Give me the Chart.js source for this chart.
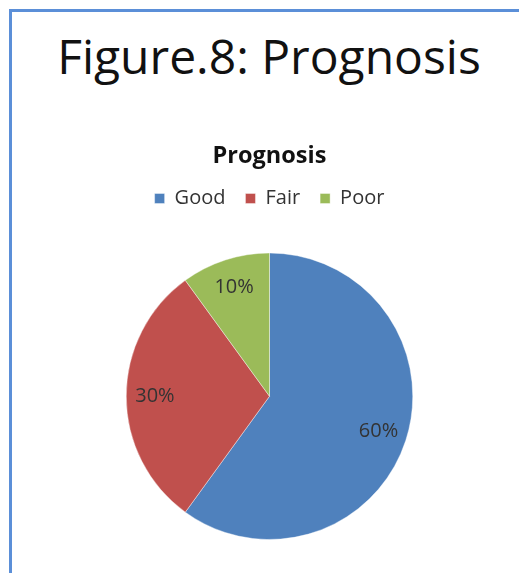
<!DOCTYPE html>
<html>
<head>
<meta charset="utf-8">
<script src="https://cdn.jsdelivr.net/npm/chart.js@4.4.0/dist/chart.umd.min.js"></script>
<style>
  html, body { margin: 0; padding: 0; background: #fff; overflow: hidden; width: 519px; height: 573px; }
  #frame {
    position: absolute; left: 9px; top: 9px; width: 507px; height: 561px;
    border-left: 3px solid #5b8fd8; border-top: 3px solid #5b8fd8;
  }
  #heading {
    position: absolute; left: 0; top: 32px; width: 538px; text-align: center;
    font-family: 'Open Sans', sans-serif; font-size: 48px; color: #111;
    line-height: 1; white-space: nowrap;
  }
  #wrap { position: absolute; left: 20px; top: 130px; width: 499px; height: 443px; }
</style>
</head>
<body>
<div id="frame"></div>
<div id="heading">Figure.8: Prognosis</div>
<div id="wrap"><canvas id="myChart"></canvas></div>
<script>
'use strict';

// chart data
var categories = ['Good', 'Fair', 'Poor'];
var shares = [60, 30, 10];
var sliceColors = ['#4f81bd', '#c0504d', '#9bbb59'];

// percent labels inside each slice
var sliceLabels = {
  id: 'sliceLabels',
  afterDatasetsDraw: function(chart) {
    var ctx = chart.ctx;
    var meta = chart.getDatasetMeta(0);
    var total = shares.reduce(function(a, b) { return a + b; }, 0);
    ctx.save();
    ctx.font = '20px "Open Sans"';
    ctx.fillStyle = '#333';
    ctx.textAlign = 'center';
    ctx.textBaseline = 'middle';
    meta.data.forEach(function(arc, i) {
      var mid = (arc.startAngle + arc.endAngle) / 2;
      var r = arc.outerRadius * 0.8;
      var pct = Math.round(shares[i] / total * 100) + '%';
      ctx.fillText(pct, arc.x + Math.cos(mid) * r, arc.y + Math.sin(mid) * r);
    });
    ctx.restore();
  }
};

// extra room between the legend and the pie
var legendGap = {
  id: 'legendGap',
  beforeInit: function(chart) {
    var fit = chart.legend.fit;
    chart.legend.fit = function() {
      fit.bind(chart.legend)();
      this.height += 34;
    };
  }
};

var canvas = document.getElementById('myChart');
var ctx = canvas.getContext('2d');

var pieChart = new Chart(ctx, {
  type: 'pie',
  data: {
    labels: categories,
    datasets: [{
      data: shares,
      backgroundColor: sliceColors,
      borderColor: 'rgba(255,255,255,0.4)',
      borderWidth: 1
    }]
  },
  options: {
    responsive: true,
    maintainAspectRatio: false,
    animation: false,
    layout: { padding: { top: 0, bottom: 33 } },
    plugins: {
      title: {
        display: true,
        text: 'Prognosis',
        color: '#111',
        font: { family: 'Open Sans', size: 23.5, weight: 'bold', lineHeight: 1 },
        padding: { top: 15, bottom: 0 }
      },
      legend: {
        position: 'top',
        labels: {
          color: '#333',
          font: { family: 'Open Sans', size: 20 },
          boxWidth: 10,
          boxHeight: 10,
          padding: 20
        }
      },
      tooltip: { enabled: false }
    }
  },
  plugins: [sliceLabels, legendGap]
});
</script>
</body>
</html>
